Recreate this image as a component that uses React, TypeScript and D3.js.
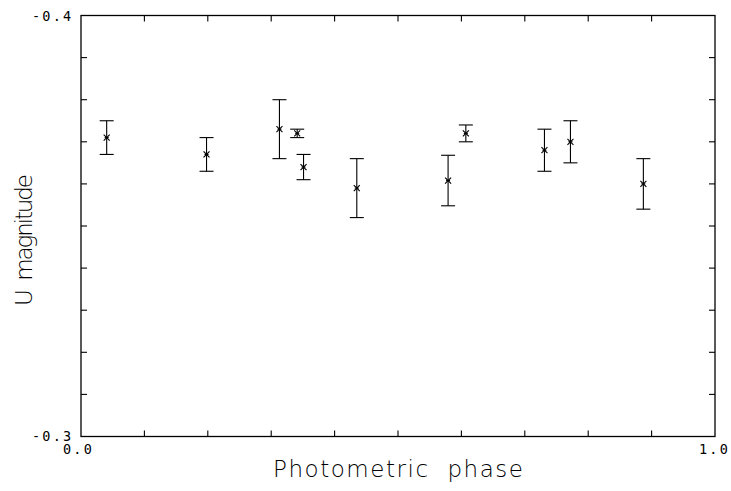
import React from 'react';
import * as d3 from 'd3';

// Phase-folded U-band light curve with 1σ error bars.
const phases = [0.0405, 0.198, 0.313, 0.341, 0.351, 0.435, 0.579, 0.607, 0.731, 0.772, 0.887];
const mags = [-0.371, -0.367, -0.373, -0.372, -0.364, -0.359, -0.3608, -0.372, -0.368, -0.370, -0.360];
const errs = [0.004, 0.004, 0.007, 0.001, 0.003, 0.007, 0.006, 0.002, 0.005, 0.005, 0.006];

const xTicks = d3.range(1, 10).map((i) => i / 10);
const yTicks = d3.range(1, 10).map((i) => -0.4 + i / 100);

const W = 731;
const H = 491;
const LEFT = 81;
const RIGHT = 715;
const TOP = 15.5;
const BOTTOM = 436.5;
const TICK = 6;

const TICK_FONT = "'DejaVu Sans Mono', monospace";
const LABEL_FONT = "'DejaVu Sans', sans-serif";

export default function App() {
  const x = d3.scaleLinear().domain([0, 1]).range([LEFT, RIGHT]);
  const y = d3.scaleLinear().domain([-0.4, -0.3]).range([TOP, BOTTOM]);
  const pts = phases.map((p, i) => ({ p, m: mags[i], e: errs[i] }));

  return (
    <div style={{ position: 'absolute', left: 0, top: 0 }}>
      <svg width={W} height={H} style={{ display: 'block', background: '#fff' }}>
        <rect x={LEFT} y={TOP} width={RIGHT - LEFT} height={BOTTOM - TOP} fill="none" stroke="#000" strokeWidth={1.3} />

        {/* inward ticks on all four sides */}
        {xTicks.map((t) => (
          <g key={`x${t}`} stroke="#000" strokeWidth={1.1}>
            <line x1={x(t)} x2={x(t)} y1={BOTTOM} y2={BOTTOM - TICK} />
            <line x1={x(t)} x2={x(t)} y1={TOP} y2={TOP + TICK} />
          </g>
        ))}
        {yTicks.map((t) => (
          <g key={`y${t}`} stroke="#000" strokeWidth={1.1}>
            <line x1={LEFT} x2={LEFT + TICK} y1={y(t)} y2={y(t)} />
            <line x1={RIGHT} x2={RIGHT - TICK} y1={y(t)} y2={y(t)} />
          </g>
        ))}

        {/* error bars and markers */}
        {pts.map((d, i) => {
          const cx = x(d.p);
          const cy = y(d.m);
          const y0 = y(d.m - d.e);
          const y1 = y(d.m + d.e);
          return (
            <g key={i} stroke="#000" strokeWidth={1.1} fill="none">
              <line x1={cx} x2={cx} y1={y0} y2={y1} />
              <line x1={cx - 7} x2={cx + 7} y1={y0} y2={y0} />
              <line x1={cx - 7} x2={cx + 7} y1={y1} y2={y1} />
              <line x1={cx - 3} x2={cx + 3} y1={cy - 3} y2={cy + 3} />
              <line x1={cx - 3} x2={cx + 3} y1={cy + 3} y2={cy - 3} />
              <line x1={cx - 2} x2={cx + 2} y1={cy} y2={cy} />
            </g>
          );
        })}

        {/* axis end labels */}
        <g fontFamily={TICK_FONT} fontSize={13.5} fill="#000" letterSpacing={2.2}>
          <text x={32} y={y(-0.4) + 5}>-0.4</text>
          <text x={32} y={y(-0.3) + 4.5}>-0.3</text>
          <text x={63} y={BOTTOM + 17}>0.0</text>
          <text x={699} y={BOTTOM + 17}>1.0</text>
        </g>

        <text
          x={(LEFT + RIGHT) / 2}
          y={477}
          textAnchor="middle"
          fontFamily={LABEL_FONT}
          fontWeight={200}
          fontSize={23}
          fill="#000"
          textLength={250}
          lengthAdjust="spacing"
          style={{ whiteSpace: 'pre' }}
        >
          {'Photometric  phase'}
        </text>
        <text
          transform={`translate(32,240) rotate(-90)`}
          textAnchor="middle"
          fontFamily={LABEL_FONT}
          fontWeight={200}
          fontSize={23}
          fill="#000"
          textLength={132}
          lengthAdjust="spacing"
          style={{ whiteSpace: 'pre' }}
        >
          {'U  magnitude'}
        </text>
      </svg>
    </div>
  );
}
